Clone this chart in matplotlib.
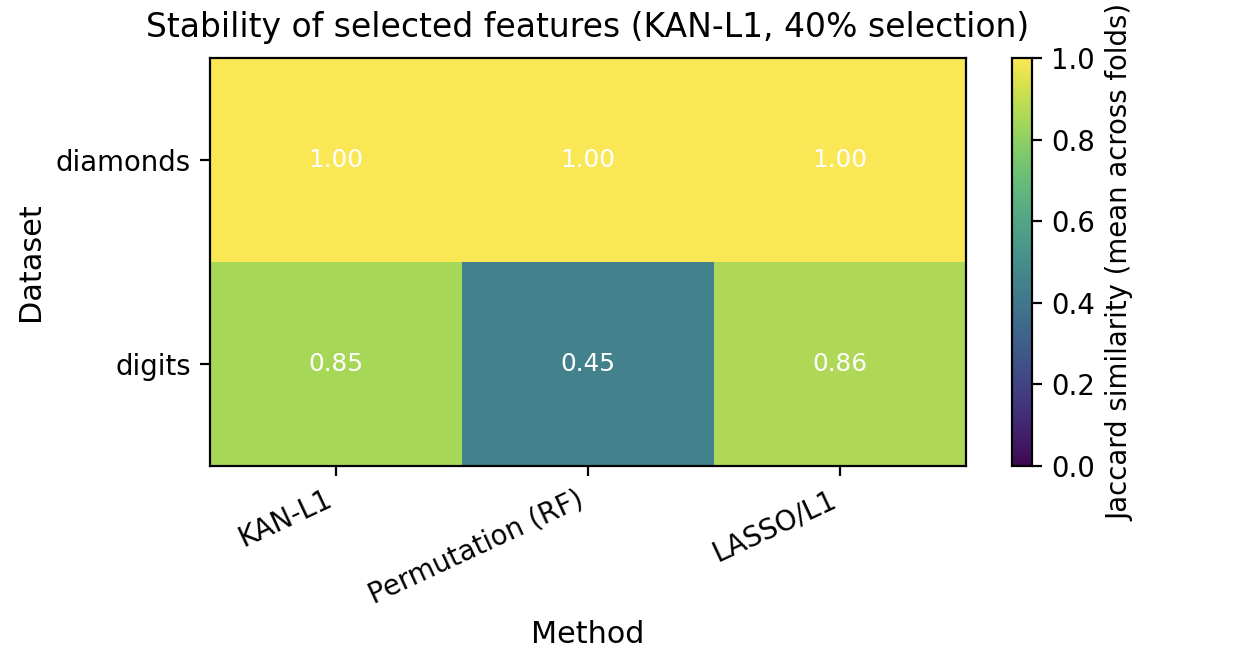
import matplotlib
matplotlib.use("Agg")
import matplotlib.pyplot as plt
from matplotlib.colors import ListedColormap
import numpy as np

datasets = ["diamonds", "digits"]
methods = ["KAN-L1", "Permutation (RF)", "LASSO/L1"]
jaccard_diamonds = [1.00, 1.00, 1.00]
jaccard_digits = [0.85, 0.45, 0.86]

data = np.array([jaccard_diamonds, jaccard_digits])


def srgb_to_p3_values(rgb):
    """Re-encode sRGB colours as Display-P3 numbers (screenshot colour shift)."""
    rgb = np.asarray(rgb, dtype=float)
    lin = np.where(rgb <= 0.04045, rgb / 12.92, ((rgb + 0.055) / 1.055) ** 2.4)
    M = np.array([[0.8225, 0.1774, 0.0000],
                  [0.0332, 0.9669, 0.0000],
                  [0.0171, 0.0724, 0.9108]])
    p3 = np.clip(lin @ M.T, 0, 1)
    enc = np.where(p3 <= 0.0031308, p3 * 12.92, 1.055 * p3 ** (1 / 2.4) - 0.055)
    return np.clip(enc, 0, 1)


base = plt.get_cmap("viridis")(np.linspace(0, 1, 256))[:, :3]
cmap = ListedColormap(srgb_to_p3_values(base), name="viridis_shifted")

W, H = 1246, 670
dpi = 198
fig = plt.figure(figsize=(W / dpi, H / dpi), dpi=dpi)

ax = fig.add_axes([210 / W, 1 - 466 / H, (966 - 210) / W, (466 - 58) / H])
cax = fig.add_axes([1012 / W, 1 - 466 / H, 20 / W, (466 - 58) / H])

im = ax.imshow(data, cmap=cmap, vmin=0, vmax=1, aspect="auto")
ax.set_xticks(range(len(methods)))
ax.set_xticklabels(methods, rotation=25, ha="right", fontsize=10)
ax.set_yticks(range(len(datasets)))
ax.set_yticklabels(datasets, fontsize=10)
ax.set_xlabel("Method", fontsize=11)
ax.set_ylabel("Dataset", fontsize=11)
ax.set_title("Stability of selected features (KAN-L1, 40% selection)",
             fontsize=12, pad=7.5)

for i in range(data.shape[0]):
    for j in range(data.shape[1]):
        ax.text(j, i, f"{data[i, j]:.2f}", ha="center", va="center",
                color="white", fontsize=9)

cb = fig.colorbar(im, cax=cax)
cb.set_label("Jaccard similarity (mean across folds)", fontsize=10)
cb.ax.tick_params(labelsize=10)

fig.savefig("out.png", dpi=dpi)
